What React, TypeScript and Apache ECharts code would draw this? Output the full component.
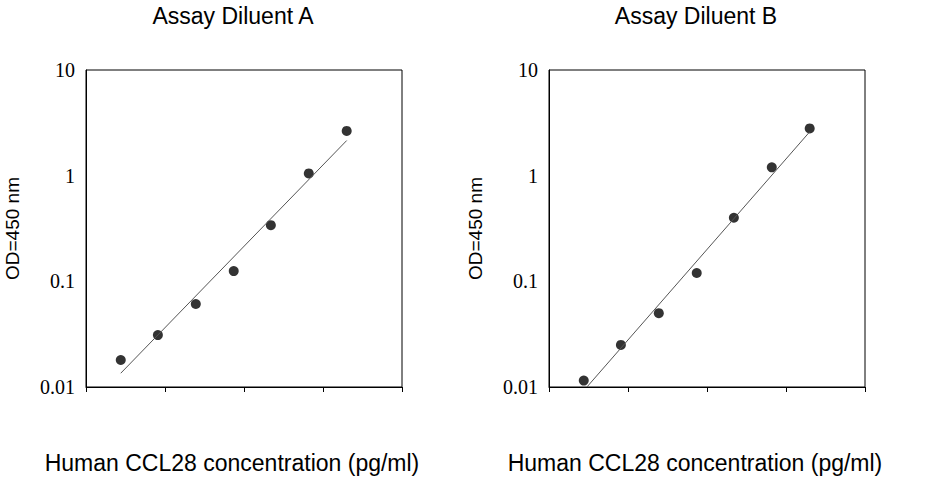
import React, { useEffect, useRef } from "react";
import * as echarts from "echarts";

const xPositions = [0.44, 0.91, 1.39, 1.87, 2.34, 2.82, 3.3];
const odA = [0.018, 0.031, 0.061, 0.125, 0.34, 1.05, 2.65];
const odB = [0.0115, 0.025, 0.05, 0.12, 0.4, 1.2, 2.8];
const fitA = [[0.44, 0.0135], [3.3, 2.15]];
const fitB = [[0.48, 0.01], [3.3, 2.6]];
const titles = ["Assay Diluent A", "Assay Diluent B"];
const xName = "Human CCL28 concentration (pg/ml)";
const yTicks = [0.01, 0.1, 1, 10];

export default function App() {
  const ref = useRef<HTMLDivElement>(null);
  useEffect(() => {
    const chart = echarts.init(ref.current!, null, { renderer: "svg" });
    const offsets = [0, 463];
    const grids = offsets.map((o) => ({ left: 86 + o, width: 316, top: 70, height: 317, show: true, borderColor: "#000", borderWidth: 1 }));
    const xAxis = offsets.map((_, i) => ({
      type: "value", gridIndex: i, min: 0, max: 4, interval: 1,
      axisLine: { lineStyle: { color: "#000" } },
      axisTick: { length: 5, lineStyle: { color: "#000" } },
      axisLabel: { show: false }, splitLine: { show: false },
    }));
    const yAxis = offsets.map((_, i) => ({
      type: "log", gridIndex: i, min: 0.01, max: 10, logBase: 10,
      axisLine: { show: true, lineStyle: { color: "#000" } },
      axisTick: { show: false }, splitLine: { show: false },
      axisLabel: { fontFamily: "Liberation Serif, Times New Roman", fontSize: 20, color: "#000", margin: 11,
        formatter: (v: number) => { const t = yTicks.find((y) => Math.abs(y - v) / y < 1e-6); return t === undefined ? "" : String(t); } },
      name: "OD=450 nm", nameLocation: "middle", nameGap: 64,
      nameTextStyle: { fontFamily: "Liberation Sans, Arial", fontSize: 19, color: "#000" },
    }));
    const series: any[] = [];
    [odA, odB].forEach((od, i) => {
      series.push({ type: "scatter", xAxisIndex: i, yAxisIndex: i, symbolSize: 10, itemStyle: { color: "#000" },
        data: xPositions.map((x, k) => [x, od[k]]) });
      series.push({ type: "line", xAxisIndex: i, yAxisIndex: i, symbol: "none", lineStyle: { color: "#555", width: 1 },
        data: i === 0 ? fitA : fitB });
    });
    const graphic: any[] = [];
    offsets.forEach((o, i) => {
      graphic.push({ type: "text", x: 233 + o, y: 16, style: { text: titles[i], align: "center", verticalAlign: "middle",
        font: "23px 'Liberation Sans', Arial", fill: "#000" } });
      graphic.push({ type: "text", x: 232 + o, y: 463, style: { text: xName, align: "center", verticalAlign: "middle",
        font: "23px 'Liberation Sans', Arial", fill: "#000" } });
    });
    chart.setOption({ animation: false, grid: grids, xAxis, yAxis, series, graphic });
    return () => chart.dispose();
  }, []);
  return <div ref={ref} style={{ width: 926, height: 480, position: "absolute", left: 0, top: 0, background: "#fff" }} />;
}
